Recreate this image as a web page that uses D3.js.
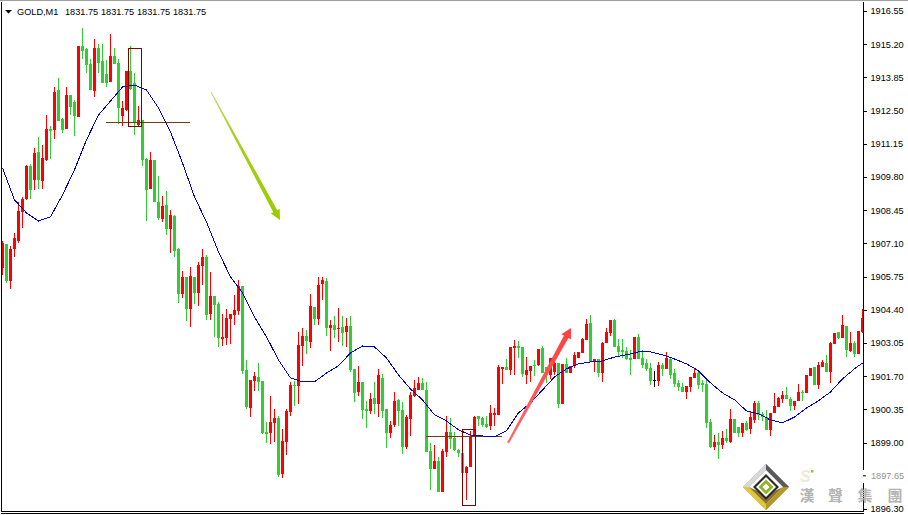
<!DOCTYPE html>
<html>
<head>
<meta charset="utf-8">
<script src="https://cdn.jsdelivr.net/npm/d3@7/dist/d3.min.js"></script>
<style>
html,body{margin:0;padding:0;background:#fff;overflow:hidden}
svg{display:block}
text{font-family:"Liberation Sans",Arial,sans-serif;font-size:9.2px;fill:#000}
</style>
</head>
<body>
<svg id="c" width="908" height="515"></svg>
<script>
const headerLabels=["GOLD,M1","1831.75","1831.75","1831.75","1831.75"];
const tickLabels=[1916.55,1915.20,1913.85,1912.50,1911.15,1909.80,1908.45,1907.10,1905.75,1904.40,1903.05,1901.70,1900.35,1899.00,1896.30];
const ghostTick=1897.65;

const opens=[1906.10,1907.08,1905.57,1906.88,1907.20,1908.38,1908.91,1910.25,1909.68,1910.82,1909.64,1910.49,1911.75,1911.71,1913.34,1912.16,1911.75,1913.14,1912.85,1912.24,
1915.13,1915.01,1914.40,1913.30,1915.05,1914.52,1913.99,1913.67,1914.72,1914.44,1912.28,1912.53,1914.11,1913.63,1911.92,1912.12,1910.54,1909.32,1910.49,1908.79,
1908.10,1908.66,1907.69,1908.22,1906.88,1905.05,1905.74,1904.44,1905.74,1905.09,1906.18,1906.55,1904.23,1904.96,1904.64,1903.22,1903.26,1904.03,1904.19,1904.35,
1905.37,1901.96,1900.41,1901.51,1901.67,1901.51,1899.43,1899.39,1899.80,1900.00,1897.73,1899.03,1900.25,1901.35,1901.31,1902.93,1903.34,1903.09,1904.52,1904.03,
1905.45,1905.57,1903.66,1903.79,1903.62,1903.70,1903.50,1903.74,1902.00,1901.06,1901.47,1900.37,1900.29,1900.82,1900.57,1901.63,1900.37,1899.39,1899.72,1900.74,
1900.33,1898.82,1899.96,1900.90,1901.14,1901.43,1901.14,1898.66,1897.93,1898.26,1897.00,1898.62,1899.43,1899.19,1898.70,1898.58,1897.77,1898.01,1899.23,1900.09,
1900.00,1899.76,1899.68,1900.13,1900.13,1902.00,1902.08,1901.96,1902.85,1902.93,1902.89,1901.75,1901.92,1902.16,1902.16,1902.85,1902.08,1901.75,1901.87,1902.24,
1900.57,1902.20,1901.83,1902.12,1902.44,1902.65,1903.18,1903.87,1902.28,1902.40,1901.83,1903.05,1903.46,1903.99,1902.93,1902.77,1902.73,1902.44,1902.40,1903.30,
1902.44,1902.24,1902.04,1901.55,1901.51,1902.16,1902.00,1902.40,1901.83,1901.43,1901.26,1901.06,1901.26,1901.63,1901.83,1901.43,1901.39,1899.84,1898.82,1899.03,
1898.91,1899.19,1899.03,1899.96,1899.64,1899.39,1899.80,1899.56,1899.92,1900.61,1900.17,1900.04,1899.52,1900.21,1900.45,1900.78,1900.94,1900.78,1900.49,1900.70,
1901.06,1901.02,1901.71,1902.08,1901.35,1902.08,1902.24,1901.87,1903.01,1903.50,1903.26,1903.74,1902.73,1903.05,1902.61,1903.50];

const highs=[1907.20,1907.08,1907.00,1907.53,1908.79,1908.99,1910.29,1910.33,1910.98,1911.43,1911.10,1912.32,1911.88,1913.46,1913.83,1912.20,1913.46,1913.14,1912.93,1915.13,
1915.86,1915.05,1914.60,1915.41,1915.21,1915.21,1914.56,1915.62,1915.05,1914.60,1912.89,1914.11,1915.13,1914.03,1912.69,1912.12,1910.58,1910.82,1910.49,1909.84,
1909.03,1909.23,1908.46,1908.26,1906.92,1905.98,1905.74,1906.14,1905.74,1906.35,1906.88,1906.63,1905.94,1904.96,1904.72,1904.23,1904.44,1904.23,1905.01,1905.62,
1905.37,1902.36,1901.55,1901.87,1902.24,1901.51,1899.84,1900.90,1900.37,1900.09,1899.56,1900.37,1901.47,1901.51,1903.50,1903.66,1903.58,1905.05,1904.52,1905.74,
1905.74,1905.70,1903.99,1904.15,1904.48,1904.15,1904.07,1904.15,1902.00,1902.12,1901.47,1900.70,1901.02,1901.47,1902.00,1901.79,1900.37,1899.88,1901.06,1900.78,
1900.65,1900.13,1901.06,1901.55,1901.67,1901.63,1901.47,1898.99,1898.91,1898.42,1898.74,1900.09,1900.00,1899.43,1898.74,1898.70,1898.05,1899.48,1900.09,1900.09,
1900.04,1900.09,1900.53,1900.41,1902.16,1902.08,1902.40,1902.89,1903.18,1903.13,1902.89,1902.48,1902.12,1902.36,1902.81,1902.93,1902.08,1902.44,1902.44,1902.24,
1902.20,1902.44,1902.12,1902.69,1902.69,1903.26,1904.03,1904.19,1902.40,1902.40,1903.09,1903.66,1903.99,1904.03,1903.22,1903.22,1902.89,1902.77,1903.30,1903.42,
1902.77,1902.40,1902.24,1901.92,1902.28,1902.24,1902.69,1902.44,1902.00,1901.55,1901.43,1901.31,1901.67,1902.04,1901.92,1901.55,1901.59,1899.96,1899.31,1899.39,
1899.48,1899.56,1900.37,1899.96,1899.64,1899.80,1899.88,1900.25,1900.70,1900.70,1900.25,1900.33,1900.21,1901.02,1900.86,1901.10,1901.26,1900.86,1900.70,1901.39,
1901.14,1901.75,1902.04,1902.08,1902.28,1902.36,1902.57,1903.09,1903.46,1903.50,1904.19,1903.74,1903.50,1903.13,1903.54,1904.44];

const lows=[1905.82,1905.49,1905.25,1906.55,1907.12,1907.73,1908.87,1908.91,1909.27,1909.32,1909.32,1910.45,1910.54,1911.35,1912.08,1911.59,1911.75,1912.32,1911.47,1912.24,
1914.60,1914.03,1913.34,1913.06,1914.03,1913.63,1913.46,1913.67,1914.40,1911.96,1911.88,1912.49,1913.34,1911.51,1911.88,1910.25,1908.01,1909.32,1908.79,1908.05,
1907.97,1907.44,1906.71,1906.55,1904.68,1904.88,1903.95,1903.70,1904.64,1904.56,1905.41,1903.99,1903.99,1903.30,1902.89,1902.93,1902.97,1903.01,1903.79,1904.19,
1901.79,1900.37,1900.04,1901.10,1901.10,1899.35,1898.99,1898.95,1899.03,1897.60,1897.56,1898.50,1900.09,1900.49,1900.57,1902.12,1902.61,1902.85,1903.79,1903.79,
1904.80,1903.34,1902.73,1903.26,1903.09,1902.93,1902.89,1901.87,1900.65,1900.90,1899.96,1899.60,1900.17,1900.17,1900.04,1900.00,1898.78,1899.19,1899.64,1899.68,
1898.54,1898.74,1899.27,1900.86,1901.14,1901.14,1898.62,1897.08,1897.93,1897.00,1897.00,1898.42,1898.74,1898.66,1898.42,1897.77,1896.67,1898.01,1899.23,1899.68,
1899.64,1899.60,1899.52,1899.68,1900.13,1901.39,1901.96,1901.75,1901.75,1902.44,1901.67,1901.39,1901.47,1901.71,1902.12,1901.83,1901.43,1901.59,1901.75,1900.41,
1900.57,1901.83,1901.83,1902.04,1902.44,1902.65,1903.18,1902.28,1901.87,1901.67,1901.47,1903.05,1903.34,1902.89,1902.53,1902.44,1902.36,1901.75,1902.40,1902.40,
1902.04,1901.92,1901.35,1901.26,1901.31,1901.71,1902.00,1901.59,1901.26,1901.10,1901.06,1900.78,1901.06,1901.63,1901.18,1901.06,1899.60,1898.78,1898.70,1898.34,
1898.74,1898.99,1898.99,1899.39,1899.23,1899.23,1899.48,1899.35,1899.80,1899.92,1899.88,1899.52,1899.27,1900.21,1900.45,1900.61,1900.78,1900.29,1900.33,1900.70,
1900.70,1901.02,1901.71,1901.35,1901.18,1902.08,1901.87,1901.43,1903.01,1903.22,1903.26,1902.48,1902.69,1902.48,1902.61,1903.46];

const closes=[1907.12,1905.57,1906.88,1907.32,1908.42,1908.91,1910.25,1909.27,1910.78,1909.68,1910.58,1911.75,1911.67,1913.26,1912.08,1911.71,1913.14,1912.65,1912.28,1915.13,
1914.93,1914.36,1913.34,1915.05,1914.44,1913.63,1913.63,1914.72,1914.40,1912.61,1912.61,1914.11,1913.38,1912.00,1912.12,1910.49,1909.27,1910.49,1908.79,1908.14,
1908.62,1907.69,1908.26,1906.79,1905.05,1905.74,1904.44,1905.78,1905.09,1906.23,1906.55,1904.19,1904.96,1904.60,1903.26,1903.30,1904.07,1904.23,1904.40,1905.37,
1901.92,1900.45,1901.55,1901.71,1901.47,1899.39,1899.35,1899.84,1900.00,1897.69,1899.07,1900.29,1901.35,1901.31,1902.97,1903.34,1903.13,1904.56,1904.03,1905.41,
1905.62,1903.66,1903.79,1903.58,1903.66,1903.46,1903.74,1901.96,1901.02,1901.47,1900.33,1900.29,1900.78,1900.57,1901.75,1900.29,1899.39,1899.72,1900.70,1900.29,
1898.82,1900.04,1900.94,1901.22,1901.43,1901.14,1898.62,1897.93,1898.26,1897.00,1898.66,1899.43,1899.15,1898.70,1898.58,1897.77,1898.01,1899.23,1900.04,1899.96,
1899.72,1899.64,1900.21,1900.21,1902.08,1902.08,1901.96,1902.89,1902.93,1902.85,1901.79,1901.96,1902.12,1902.12,1902.81,1901.83,1901.79,1902.44,1902.24,1900.57,
1902.20,1901.83,1902.12,1902.57,1902.69,1903.22,1903.83,1902.28,1902.40,1901.83,1903.05,1903.50,1903.99,1902.89,1902.69,1902.69,1902.40,1902.36,1903.30,1902.40,
1902.16,1902.00,1901.51,1901.55,1902.16,1902.00,1902.44,1901.75,1901.39,1901.26,1901.06,1901.31,1901.67,1901.83,1901.35,1901.35,1899.80,1898.82,1899.03,1898.91,
1899.19,1899.07,1899.96,1899.39,1899.39,1899.80,1899.52,1900.04,1900.61,1900.13,1900.04,1899.52,1900.21,1900.49,1900.82,1900.94,1900.78,1900.49,1900.70,1901.06,
1901.02,1901.75,1902.04,1901.35,1902.16,1902.28,1901.87,1903.05,1903.46,1903.26,1903.79,1902.77,1903.05,1902.61,1903.54,1904.07];

const maValues=[1910.17,1908.87,1908.34,1908.01,1908.18,1909.07,1910.09,1911.31,1912.32,1912.89,1913.46,1913.54,1913.34,1912.61,1911.63,1910.37,1908.99,1907.97,1906.75,
1905.74,1905.09,1904.11,1903.30,1902.36,1901.63,1901.47,1901.47,1901.83,1902.12,1902.65,1902.93,1902.89,1902.44,1901.75,1901.18,1900.74,1900.13,1899.88,
1899.52,1899.31,1899.27,1899.23,1899.48,1900.21,1900.61,1901.14,1901.67,1902.00,1902.20,1902.28,1902.32,1902.48,1902.57,1902.69,1902.69,1902.57,
1902.40,1902.20,1901.92,1901.43,1901.02,1900.74,1900.29,1900.17,1899.92,1899.80,1900.04,1900.41,1900.70,1901.06,1901.59,1902.00,1902.24];

const svg=d3.select("#c");
const n=closes.length;
const x=d3.scaleLinear().domain([0,215]).range([2.5,862.5]);
const y=d3.scaleLinear().domain([1916.55,1896.30]).range([11,509]);
const maIndex=maValues.map((_,k)=>k===maValues.length-1?n-1:k*3);

const defs=svg.append("defs");
defs.append("clipPath").attr("id","plot").append("rect").attr("x",2).attr("y",0).attr("width",861).attr("height",511);
const gradG=defs.append("linearGradient").attr("id","gArrow").attr("gradientUnits","userSpaceOnUse")
  .attr("x1",211).attr("y1",92).attr("x2",280).attr("y2",220);
gradG.append("stop").attr("offset",0).attr("stop-color","#c4dc70");
gradG.append("stop").attr("offset",.3).attr("stop-color","#a6d018");
gradG.append("stop").attr("offset",1).attr("stop-color","#99cc00");
const gradR=defs.append("linearGradient").attr("id","rArrow").attr("gradientUnits","userSpaceOnUse")
  .attr("x1",508).attr("y1",443).attr("x2",571).attr("y2",328);
gradR.append("stop").attr("offset",0).attr("stop-color","#ff6a6a");
gradR.append("stop").attr("offset",1).attr("stop-color","#ff4040");

const plot=svg.append("g").attr("clip-path","url(#plot)");
const colour=i=>closes[i]>opens[i]?"#ff0000":closes[i]<opens[i]?"#32cd32":"#000000";
const idx=d3.range(n);

const gc=plot.append("g").attr("shape-rendering","crispEdges");
gc.selectAll("rect.w").data(idx).join("rect").attr("class","w")
  .attr("x",i=>x(i)-.5).attr("width",1)
  .attr("y",i=>y(highs[i])).attr("height",i=>Math.max(1,y(lows[i])-y(highs[i])))
  .attr("fill",colour);
gc.selectAll("rect.b").data(idx).join("rect").attr("class","b")
  .attr("x",i=>x(i)-1.5).attr("width",3)
  .attr("y",i=>y(Math.max(opens[i],closes[i])))
  .attr("height",i=>Math.max(1,Math.abs(y(opens[i])-y(closes[i]))))
  .attr("fill",colour);

// annotation lines and boxes placed through the scales
const brown="#6f3a14", maroon="#800000";
[[25.9,46.9,1912.00],[105.9,124.9,1899.23]].forEach(d=>{
  plot.append("line").attr("x1",x(d[0])).attr("x2",x(d[1])).attr("y1",y(d[2])).attr("y2",y(d[2]))
    .attr("stroke",brown).attr("shape-rendering","crispEdges");
});

const line=d3.line().x((d,k)=>x(maIndex[k])).y(d=>y(d));
plot.append("path").attr("d",line(maValues)).attr("fill","none").attr("stroke","#0000cd").attr("stroke-width",1).attr("shape-rendering","crispEdges");

[[31.4,34.6,1915.05,1911.88],[114.9,118.1,1899.56,1896.47]].forEach(d=>{
  plot.append("rect").attr("x",Math.round(x(d[0]))+.5).attr("width",Math.round(x(d[1])-x(d[0])))
    .attr("y",Math.round(y(d[2]))+.5).attr("height",Math.round(y(d[3])-y(d[2])))
    .attr("fill","none").attr("stroke",maroon).attr("shape-rendering","crispEdges");
});

function arrow(x0,y0,x1,y1,wTail,wShaft,wHead,lHead,fill){
  const L=Math.hypot(x1-x0,y1-y0),ux=(x1-x0)/L,uy=(y1-y0)/L,nx=-uy,ny=ux;
  const bx=x1-ux*lHead,by=y1-uy*lHead;
  const p=[[x0+nx*wTail/2,y0+ny*wTail/2],[bx+nx*wShaft/2,by+ny*wShaft/2],[bx+nx*wHead/2,by+ny*wHead/2],[x1,y1],
           [bx-nx*wHead/2,by-ny*wHead/2],[bx-nx*wShaft/2,by-ny*wShaft/2],[x0-nx*wTail/2,y0-ny*wTail/2]];
  svg.append("polygon").attr("points",p.map(q=>q.join(",")).join(" ")).attr("fill",fill);
}
arrow(211,92,280,220,1,4.5,10,10,"url(#gArrow)");
arrow(508,443,571,328,2.2,5,11,10,"url(#rArrow)");

// frame
const frame=svg.append("g").attr("shape-rendering","crispEdges");
frame.append("rect").attr("x",0).attr("y",0).attr("width",908).attr("height",1).attr("fill","#a0a0a0");
frame.append("rect").attr("x",1).attr("y",2).attr("width",1).attr("height",510).attr("fill","#000");
frame.append("rect").attr("x",1).attr("y",511).attr("width",863).attr("height",1).attr("fill","#000");
frame.append("rect").attr("x",1).attr("y",513).attr("width",863).attr("height",1).attr("fill","#000");

// price axis
const axisG=svg.append("g").attr("transform","translate(863.5,0)")
  .call(d3.axisRight(y).tickValues(tickLabels).tickSize(3).tickPadding(4).tickFormat(d3.format(".2f")));
axisG.select(".domain").remove();
axisG.selectAll("line").attr("stroke","#000").attr("shape-rendering","crispEdges");
axisG.selectAll("text").attr("fill","#000");
frame.append("rect").attr("x",863).attr("y",2).attr("width",1).attr("height",468).attr("fill","#000");
frame.append("rect").attr("x",863).attr("y",483).attr("width",1).attr("height",29).attr("fill","#000");
svg.append("rect").attr("x",863).attr("y",y(ghostTick)-.5).attr("width",3).attr("height",1).attr("fill","#000");
svg.append("text").attr("x",871).attr("y",y(ghostTick)+3.5).attr("opacity",.45).attr("fill","#335").text(d3.format(".2f")(ghostTick));

// header
svg.append("path").attr("d","M5,10L12,10L8.5,13.5Z").attr("fill","#000");
headerLabels.forEach((t,k)=>{
  svg.append("text").attr("x",k===0?17:65+36*(k-1)).attr("y",15).attr("fill","#0b2a44").text(t);
});

// logo
const logo=svg.append("g").attr("transform","translate(766,487)");
const dia=(r,f)=>logo.append("polygon").attr("points",`0,${-r} ${r},0 0,${r} ${-r},0`).attr("fill",f);
dia(23,"#8a8a8a");
logo.append("polygon").attr("points","0,-23 -23,0 -17,0 0,-17").attr("fill","#d8d8d8");
logo.append("polygon").attr("points","0,-23 23,0 17,0 0,-17").attr("fill","#5a5a5a");
logo.append("polygon").attr("points","-23,0 0,23 0,17 -17,0").attr("fill","#e3c82f");
logo.append("polygon").attr("points","23,0 0,23 0,17 17,0").attr("fill","#b8971f");
logo.append("polygon").attr("points","0,-17 -17,0 0,17 17,0").attr("fill","#fff");
logo.append("polygon").attr("points","-17,0 0,17 17,0 0,8").attr("fill","#8a7430");
dia(13,"#2e2a22");
dia(10,"#fff");
dia(7.5,"#8db52c");
dia(3.5,"#fff");

const brand=["漢","聲","集","團"];
brand.forEach((t,k)=>{
  svg.append("text").attr("x",[807,835.5,865,895][k]).attr("y",501).attr("text-anchor","middle")
    .style("font-family",'"Noto Sans CJK TC"').style("font-size","15px").style("font-weight","700").style("fill","#b4b4b4").text(t);
});
svg.append("text").attr("x",800).attr("y",482).style("font-size","16px").style("font-style","italic").style("font-weight","700").style("fill","#ecebd8").text("S");
svg.append("rect").attr("x",811).attr("y",470).attr("width",2.5).attr("height",2.5).attr("fill","#9cc23c");
</script>
</body>
</html>
